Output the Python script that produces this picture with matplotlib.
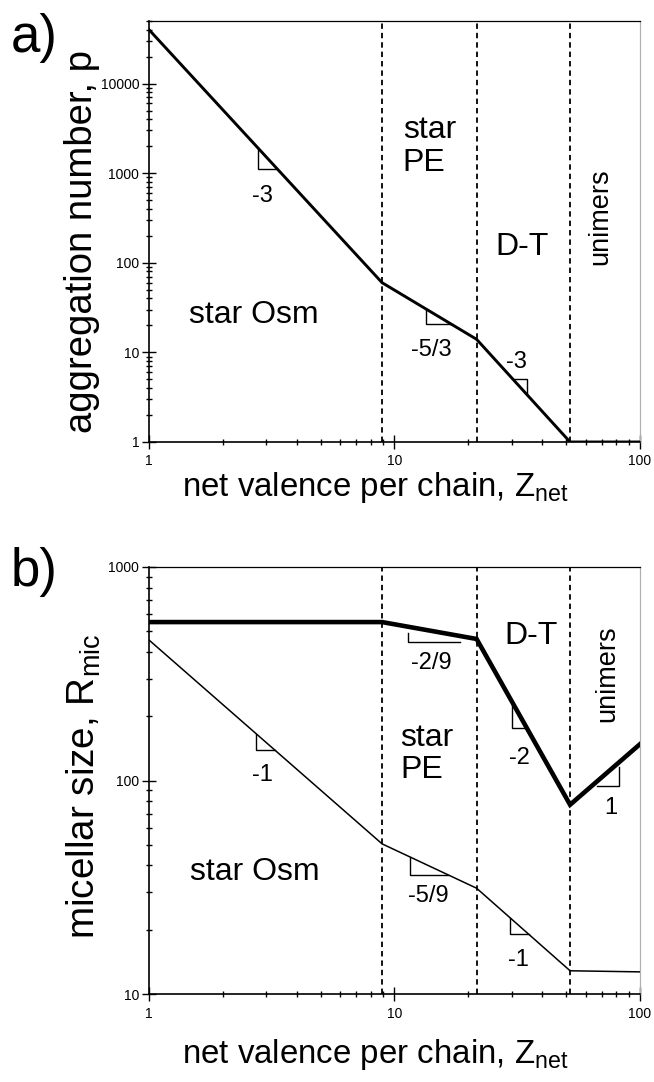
import numpy as np
import matplotlib
matplotlib.use('Agg')
import matplotlib.pyplot as plt
from matplotlib.ticker import FixedLocator, NullFormatter

plt.rcParams['font.family'] = ['Liberation Sans', 'DejaVu Sans']
plt.rcParams['mathtext.fontset'] = 'custom'
plt.rcParams['mathtext.rm'] = 'Liberation Sans'

# regime boundaries (Z_net)
z_bounds = [8.9, 21.6, 51.9]

# a) aggregation number p
z_a = [1, 8.9, 21.6, 51.9, 100]
p_a = [40000, 60, 14, 1, 1]

# b) micellar size, two curves
z_b = [1, 8.9, 21.6, 51.9, 100]
r_thick = [552, 552, 460, 77, 148]
r_thin = [455, 50.5, 31.3, 12.85, 12.7]

# slope triangles: (x0, x1, corner, label, label x/y in axes fraction, shift)
tri_a = [(2.78, 3.32, 'bl', '-3', 0.232, 0.584, 1.0),
         (13.5, 17.1, 'bl', '-5/3', 0.576, 0.2185, 1.0),
         (30.3, 34.8, 'tr', '-3', 0.749, 0.190, 1.0)]
tri_b_thick = [(11.35, 18.5, 'bl', '-2/9', 0.576, 0.775, 0.937),
               (30.0, 34.6, 'bl', '-2', 0.754, 0.553, 1.0),
               (66.8, 82.0, 'br', '1', 0.941, 0.4356, 0.95)]
tri_b_thin = [(2.73, 3.26, 'bl', '-1', 0.232, 0.513, 1.0),
              (11.6, 16.5, 'bl', '-5/9', 0.568, 0.2295, 1.0),
              (29.5, 35.3, 'bl', '-1', 0.7515, 0.0796, 1.0)]


def line_y(xs, ys, x):
    return 10 ** np.interp(np.log10(x), np.log10(xs), np.log10(ys))


def triangles(ax, xs, ys, tris):
    for x0, x1, corner, lab, lx, ly, sh in tris:
        y0 = line_y(xs, ys, x0) * sh
        y1 = line_y(xs, ys, x1) * sh
        if corner == 'bl':
            px, py = [x0, x0, x1], [y0, y1, y1]
        else:  # corner on the right, at the height of the left end
            px, py = [x0, x1, x1], [y0, y0, y1]
        ax.plot(px, py, color='black', lw=1.0, solid_joinstyle='miter')
        ax.text(lx, ly, lab, transform=ax.transAxes, ha='center', va='center', fontsize=17)


def style(ax, ylo, yhi, yticks):
    ax.set_xscale('log')
    ax.set_yscale('log')
    ax.set_xlim(1, 100)
    ax.set_ylim(ylo, yhi)
    ax.xaxis.set_major_locator(FixedLocator([1, 10, 100]))
    ax.set_xticklabels(['1', '10', '100'])
    ax.yaxis.set_major_locator(FixedLocator(yticks))
    ax.set_yticklabels([str(t) for t in yticks])
    ax.xaxis.set_minor_formatter(NullFormatter())
    ax.yaxis.set_minor_formatter(NullFormatter())
    ax.tick_params(which='major', direction='inout', length=10, width=1.0, labelsize=10, pad=2)
    ax.tick_params(which='minor', direction='inout', length=5, width=1.0)
    ax.tick_params(axis='x', which='major', pad=4)
    for s in ['left', 'bottom']:
        ax.spines[s].set_linewidth(1.2)
    ax.spines['top'].set_linewidth(0.9)
    ax.spines['right'].set_color('#b0b0b0')
    ax.spines['right'].set_linewidth(0.9)
    for zb in z_bounds:
        ax.axvline(zb, color='black', lw=1.3, ls=(0, (3, 2.2)), zorder=1)


fig = plt.figure(figsize=(6.54, 10.82), dpi=100)
ax1 = fig.add_axes([0.2278, 0.5915, 0.7508, 0.3891])
ax2 = fig.add_axes([0.2278, 0.0813, 0.7508, 0.3947])

# panel a
style(ax1, 1, 50000, [1, 10, 100, 1000, 10000])
ax1.plot(z_a, p_a, color='black', lw=2.1, zorder=3)
triangles(ax1, z_a, p_a, tri_a)
ax1.text(0.214, 0.302, 'star Osm', transform=ax1.transAxes, ha='center', va='center', fontsize=23)
ax1.text(0.517, 0.702, 'star\nPE', transform=ax1.transAxes, ha='left', va='center', fontsize=23, linespacing=1.1)
ax1.text(0.760, 0.463, 'D-T', transform=ax1.transAxes, ha='center', va='center', fontsize=23)
ax1.text(0.9185, 0.534, 'unimers', transform=ax1.transAxes, ha='center', va='center', fontsize=19.5, rotation=90)

# panel b
style(ax2, 10, 1000, [10, 100, 1000])
ax2.plot(z_b, r_thick, color='black', lw=3.3, zorder=3, solid_joinstyle='miter')
ax2.plot(z_b, r_thin, color='black', lw=1.1, zorder=3)
triangles(ax2, z_b, r_thick, tri_b_thick)
triangles(ax2, z_b, r_thin, tri_b_thin)
ax2.text(0.216, 0.2857, 'star Osm', transform=ax2.transAxes, ha='center', va='center', fontsize=23)
ax2.text(0.511, 0.562, 'star\nPE', transform=ax2.transAxes, ha='left', va='center', fontsize=23, linespacing=1.1)
ax2.text(0.778, 0.838, 'D-T', transform=ax2.transAxes, ha='center', va='center', fontsize=23)
ax2.text(0.933, 0.749, 'unimers', transform=ax2.transAxes, ha='center', va='center', fontsize=19.5, rotation=90)

# labels
fig.text(0.052, 0.965, 'a)', fontsize=38, ha='center', va='center')
fig.text(0.052, 0.471, 'b)', fontsize=38, ha='center', va='center')
fig.text(0.1254, 0.777, 'aggregation number, p', rotation=90, ha='center', va='center', fontsize=27.5)
fig.text(0.574, 0.549, r'net valence per chain, Z$_{\mathregular{net}}$', ha='center', va='center', fontsize=23.8)
fig.text(0.128, 0.2736, r'micellar size, R$_{\mathregular{mic}}$', rotation=90, ha='center', va='center', fontsize=27.8)
fig.text(0.574, 0.025, r'net valence per chain, Z$_{\mathregular{net}}$', ha='center', va='center', fontsize=23.8)

fig.savefig('out.png', dpi=100)
